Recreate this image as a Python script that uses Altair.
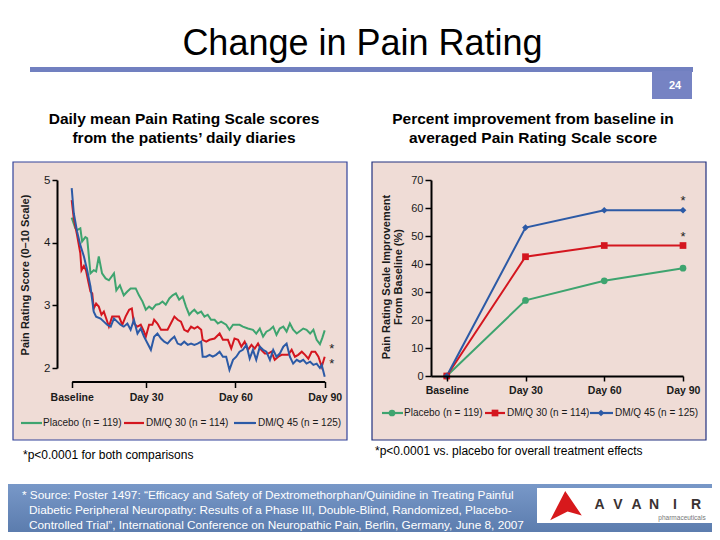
import json
import altair as alt
import pandas as pd

# ------------------------------------------------------------------ data
series = ["Placebo (n = 119)", "DM/Q 30 (n = 114)", "DM/Q 45 (n = 125)"]
series_colors = ["#3ea46f", "#d4161f", "#2c5aa6"]
series_shapes = ["circle", "square", "diamond"]

# Left panel: daily mean Pain Rating Scale score (0-10) by study day
placebo_days = [5, 6.2, 6.8, 7.9, 8.5, 9.6, 10.2, 11.3, 12.4, 13.2,
                14.1, 15.2, 16.4, 17.5, 19.2, 20.0, 21.2, 22.5, 23.7, 24.8,
                26.5, 27.6, 28.8, 29.9, 31.0, 32.1, 33.3, 34.4, 35.5, 36.6,
                37.8, 38.9, 40.0, 41.1, 42.3, 43.4, 44.5, 45.4, 46.2, 47.3,
                48.5, 49.6, 50.7, 51.8, 53.0, 54.1, 55.2, 56.9, 58.0, 59.2,
                60.3, 61.4, 62.5, 64.2, 65.9, 67.0, 68.2, 69.3, 70.4, 71.6,
                72.7, 73.8, 74.9, 76.1, 77.2, 78.3, 79.4, 80.6, 81.7, 82.8,
                83.9, 85.1, 86.2, 87.3, 88.4, 89.2, 90.0]
placebo_scores = [4.40, 4.23, 4.20, 4.23, 4.02, 4.09, 4.07, 3.51, 3.56, 3.54,
                  3.78, 3.51, 3.43, 3.40, 3.51, 3.24, 3.32, 3.16, 3.22, 3.27,
                  3.27, 3.16, 3.06, 2.93, 2.98, 2.94, 3.01, 3.02, 3.06, 3.01,
                  3.11, 3.16, 3.19, 3.09, 3.14, 2.98, 2.85, 2.90, 2.93, 2.87,
                  2.90, 2.82, 2.85, 2.77, 2.77, 2.71, 2.74, 2.69, 2.61, 2.69,
                  2.69, 2.69, 2.66, 2.63, 2.61, 2.55, 2.63, 2.50, 2.58, 2.61,
                  2.66, 2.53, 2.63, 2.66, 2.58, 2.71, 2.61, 2.55, 2.59, 2.63,
                  2.61, 2.55, 2.61, 2.45, 2.38, 2.48, 2.60]

dmq30_days = [5, 5.7, 6.8, 7.9, 8.3, 9.1, 9.8, 10.7, 11.3, 11.9,
              12.4, 13.2, 14.1, 15.0, 15.8, 16.6, 17.5, 18.6, 19.8, 20.9,
              22.0, 23.1, 24.3, 25.2, 25.9, 27.1, 28.2, 29.3, 29.9, 31.0,
              32.1, 32.7, 33.8, 35.0, 36.1, 37.2, 38.3, 39.5, 40.6, 41.7,
              42.8, 44.0, 45.1, 46.2, 47.3, 48.5, 49.0, 50.2, 51.3, 53.0,
              54.7, 55.8, 57.5, 58.6, 59.7, 60.9, 62.0, 63.1, 64.2, 65.4,
              66.5, 67.6, 68.7, 69.9, 71.0, 72.1, 73.2, 74.4, 75.5, 76.6,
              77.7, 78.9, 80.0, 81.1, 82.3, 83.4, 84.5, 85.6, 86.8, 87.9,
              89.0, 90.0]
dmq30_scores = [4.68, 4.39, 4.12, 3.83, 3.56, 3.63, 3.56, 3.35, 3.22, 3.19,
                2.95, 3.03, 2.98, 2.85, 2.90, 2.79, 2.66, 2.82, 2.82, 2.82,
                2.69, 2.82, 2.93, 2.95, 2.71, 2.66, 2.69, 2.58, 2.50, 2.69,
                2.69, 2.77, 2.71, 2.61, 2.61, 2.61, 2.71, 2.82, 2.77, 2.74,
                2.61, 2.58, 2.66, 2.63, 2.66, 2.61, 2.45, 2.42, 2.45, 2.47,
                2.55, 2.45, 2.45, 2.31, 2.47, 2.45, 2.34, 2.42, 2.29, 2.37,
                2.31, 2.39, 2.29, 2.23, 2.23, 2.26, 2.13, 2.18, 2.21, 2.21,
                2.21, 2.29, 2.18, 2.21, 2.26, 2.21, 2.15, 2.26, 2.26, 2.18,
                2.02, 2.18]

dmq45_days = [5, 5.7, 6.8, 7.9, 9.1, 10.2, 11.3, 12.4, 13.2, 14.7,
              15.8, 16.9, 18.1, 19.2, 20.3, 21.4, 22.5, 23.7, 24.8, 25.9,
              27.1, 28.2, 29.3, 30.5, 31.6, 32.7, 33.8, 35.0, 36.1, 37.2,
              38.3, 39.5, 40.6, 41.7, 42.8, 44.0, 45.1, 46.2, 47.3, 48.5,
              49.0, 50.2, 51.3, 52.4, 53.5, 54.7, 55.8, 56.9, 58.0, 59.2,
              60.3, 61.4, 62.5, 63.7, 64.8, 65.9, 67.0, 68.2, 69.3, 70.4,
              71.6, 72.7, 73.8, 74.9, 76.1, 77.2, 78.3, 79.4, 80.6, 81.7,
              82.8, 83.9, 85.1, 86.2, 87.3, 88.4, 89.0, 90.0]
dmq45_scores = [4.87, 4.47, 4.18, 3.96, 3.78, 3.56, 3.30, 2.90, 2.82, 2.79,
                2.74, 2.69, 2.66, 2.79, 2.74, 2.69, 2.66, 2.71, 2.61, 2.77,
                2.55, 2.63, 2.50, 2.39, 2.29, 2.50, 2.55, 2.47, 2.42, 2.39,
                2.45, 2.50, 2.39, 2.37, 2.42, 2.37, 2.39, 2.37, 2.39, 2.42,
                2.18, 2.18, 2.21, 2.18, 2.21, 2.26, 2.18, 2.18, 1.97, 2.13,
                2.18, 2.26, 2.29, 2.37, 2.15, 2.29, 2.13, 2.34, 2.29, 2.26,
                2.13, 2.29, 2.18, 2.23, 2.34, 2.39, 2.18, 2.07, 2.13, 2.10,
                2.13, 2.07, 2.10, 2.05, 2.07, 2.00, 2.05, 1.86]

visit_labels = ["Baseline", "Day 30", "Day 60", "Day 90"]
left_tick_days = [5, 30, 60, 90]
left_y_ticks = [2, 3, 4, 5]
left_star_scores = [2.30, 2.07]          # '*' beside the Day-90 ends

# Right panel: percent improvement from baseline
placebo_pct = [0, 27.0, 34.0, 38.5]
dmq30_pct = [0, 42.6, 46.6, 46.6]
dmq45_pct = [0, 53.0, 59.2, 59.2]
right_y_ticks = [0, 10, 20, 30, 40, 50, 60, 70]

title_text = "Change in Pain Rating"
page_no = "24"
left_subtitle = "Daily mean Pain Rating Scale scores\nfrom the patients\u2019 daily diaries"
right_subtitle = "Percent improvement from baseline in\naveraged Pain Rating Scale score"
left_ytitle = "Pain Rating Score (0\u201310 Scale)"
right_ytitle = "Pain Rating Scale Improvement\nFrom Baseline (%)"
left_note = "*p<0.0001 for both comparisons"
right_note = "*p<0.0001 vs. placebo for overall treatment effects"
source_1 = "* Source: Poster 1497: \u201cEfficacy and Safety of Dextromethorphan/Quinidine in Treating Painful"
source_23 = ("Diabetic Peripheral Neuropathy: Results of a Phase III, Double-Blind, Randomized, Placebo-\n"
             "Controlled Trial\u201d, International Conference on Neuropathic Pain, Berlin, Germany, June 8, 2007")
logo_letters = list("AVANIR")
logo_sub = "pharmaceuticals"

# ------------------------------------------------------------------ layout
OFF = 8
W, H = 704, 524
SANS = "Liberation Sans, Arial, Helvetica, sans-serif"


def P(v):
    return v - OFF


def one():
    return pd.DataFrame({"k": [0]})


def box(x1, y1, x2, y2, **kw):
    return alt.Chart(one()).mark_rect(**kw).encode(
        x=alt.value(P(x1)), x2=alt.value(P(x2)), y=alt.value(P(y1)), y2=alt.value(P(y2)))


def txt(s, x, y, **kw):
    return alt.Chart(pd.DataFrame({"t": [s]})).mark_text(**kw).encode(
        x=alt.value(P(x)), y=alt.value(P(y)), text="t:N")


def axis(orient, offset, values, label_expr=None, bold=False, tick=5, pad=3, size=11):
    kw = dict(orient=orient, offset=offset, values=values, title=None, grid=False,
              domainColor="#000", domainWidth=2, tickColor="#000", tickWidth=1.5,
              tickSize=tick, labelFont=SANS, labelFontSize=size,
              labelFontWeight="bold" if bold else "normal", labelColor="#1a1a1a",
              labelPadding=pad, labelFlush=False, labelOverlap=False, labelBound=False,
              zindex=1)
    if label_expr:
        kw["labelExpr"] = label_expr
    return alt.Axis(**kw)


col_scale = alt.Scale(domain=series, range=series_colors)
shape_scale = alt.Scale(domain=series, range=series_shapes)
size_scale = alt.Scale(domain=series, range=[45, 45, 75])

# ------------------------------------------------------------------ frames
left_df = pd.concat([
    pd.DataFrame({"series": series[0], "day": placebo_days, "score": placebo_scores}),
    pd.DataFrame({"series": series[1], "day": dmq30_days, "score": dmq30_scores}),
    pd.DataFrame({"series": series[2], "day": dmq45_days, "score": dmq45_scores}),
], ignore_index=True)

right_df = pd.concat([
    pd.DataFrame({"series": s, "visit": list(range(len(visit_labels))), "pct": p})
    for s, p in zip(series, [placebo_pct, dmq30_pct, dmq45_pct])
], ignore_index=True)
right_star_df = right_df[(right_df.visit == len(visit_labels) - 1) & (right_df.series != series[0])]
left_star_df = pd.DataFrame({"day": [left_tick_days[-1]] * 2, "score": left_star_scores})

# ------------------------------------------------------------------ scales
L_XS = alt.Scale(domain=[left_tick_days[0], left_tick_days[-1]], range=[P(71.7), P(324.7)], nice=False, zero=False)
L_YS = alt.Scale(domain=[2, 5], range=[P(368), P(180)], nice=False, zero=False)
R_XS = alt.Scale(domain=[-0.2, 3], range=[P(431), P(683)], nice=False, zero=False)
R_YS = alt.Scale(domain=[0, 70], range=[P(376), P(180)], nice=False, zero=False)

left_label_expr = f"{json.dumps(visit_labels)}[indexof({json.dumps(left_tick_days)}, datum.value)]"
right_label_expr = f"{json.dumps(visit_labels)}[datum.value]"

# ------------------------------------------------------------------ layers
layers = []

# background pieces
layers.append(box(30, 67, 693, 72, fill="#7180c0"))
layers.append(box(652, 71, 692, 99, fill="#7683c3"))
layers.append(box(13, 162, 347, 440, fill="#efdcd6", stroke="#33439a", strokeWidth=1.2))
layers.append(box(372, 162, 706, 440, fill="#efdcd6", stroke="#22307e", strokeWidth=1.2))
layers.append(box(0, 484, 728, 548, fill=alt.LinearGradient(
    gradient="linear",
    stops=[alt.GradientStop(color="#7898c8", offset=0), alt.GradientStop(color="#5273a5", offset=1)],
    x1=0, x2=0, y1=0, y2=1)))
layers.append(box(537, 488, 715, 523, fill="white"))

# texts
layers.append(txt(title_text, 362.5, 55, font=SANS, fontSize=36, align="center", baseline="alphabetic", color="black"))
layers.append(txt(page_no, 675, 86, font=SANS, fontSize=11, fontWeight="bold", align="center", baseline="middle", color="white"))
layers.append(txt(left_subtitle, 184, 124, font=SANS, fontSize=15.5, fontWeight="bold", align="center",
                  baseline="alphabetic", lineBreak="\n", lineHeight=19, color="black"))
layers.append(txt(right_subtitle, 533, 124, font=SANS, fontSize=15.5, fontWeight="bold", align="center",
                  baseline="alphabetic", lineBreak="\n", lineHeight=19, color="black"))
layers.append(txt(left_note, 23, 459, font=SANS, fontSize=12, align="left", baseline="alphabetic", color="black"))
layers.append(txt(right_note, 375, 455, font=SANS, fontSize=12, align="left", baseline="alphabetic", color="black"))
layers.append(txt(source_1, 22, 499, font=SANS, fontSize=11.8, align="left", baseline="alphabetic", color="white"))
layers.append(txt(source_23, 29, 514, font=SANS, fontSize=11.8, align="left", baseline="alphabetic",
                  lineBreak="\n", lineHeight=15, color="white"))
layers.append(txt(left_ytitle, 26, 275, font=SANS, fontSize=11, fontWeight="bold", angle=270,
                  align="center", baseline="middle", color="#1a1a1a"))
layers.append(txt(right_ytitle, 387, 277, font=SANS, fontSize=11, fontWeight="bold", angle=270,
                  align="center", baseline="middle", lineBreak="\n", lineHeight=12, color="#1a1a1a"))

# logo
layers.append(alt.Chart(one()).mark_point(
    shape="M-1,0.9L-0.05,-0.95L1,0.6L0.1,0.35Z", filled=True, fill="#d7191c", opacity=1, size=1000
).encode(x=alt.value(P(566)), y=alt.value(P(506))))
logo_df = pd.DataFrame({"ch": logo_letters, "lx": [P(v) for v in [599.5, 618, 636.5, 654, 675, 696]]})
layers.append(alt.Chart(logo_df).mark_text(font=SANS, fontSize=14, fontWeight="bold", color="#3a3232",
                                           align="center", baseline="middle").encode(
    x=alt.X("lx:Q", scale=None), y=alt.value(P(505)), text="ch:N"))
layers.append(txt(logo_sub, 682, 518, font=SANS, fontSize=6.5, align="center", baseline="middle", color="#777777"))

# left chart
layers.append(alt.Chart(left_df).mark_line(strokeWidth=2).encode(
    x=alt.X("day:Q", scale=L_XS, axis=axis("bottom", P(381.5) - H, left_tick_days, left_label_expr,
                                            bold=True, tick=6, pad=5, size=10.5)),
    y=alt.Y("score:Q", scale=L_YS, axis=axis("left", -P(57), left_y_ticks, tick=5, pad=2, size=11.5)),
    color=alt.Color("series:N", scale=col_scale, legend=None),
    detail="series:N",
))
layers.append(alt.Chart(left_star_df).mark_text(text="*", font=SANS, fontSize=13, dx=7, color="#222",
                                                 align="center", baseline="middle").encode(
    x=alt.X("day:Q", scale=L_XS, axis=None), y=alt.Y("score:Q", scale=L_YS, axis=None)))

# right chart
layers.append(alt.Chart(right_df).mark_line(strokeWidth=2).encode(
    x=alt.X("visit:Q", scale=R_XS, axis=axis("bottom", P(376) - H, list(range(len(visit_labels))),
                                              right_label_expr, bold=True, tick=5, pad=4, size=10.5)),
    y=alt.Y("pct:Q", scale=R_YS, axis=axis("left", -P(431), right_y_ticks, tick=6, pad=2, size=11)),
    color=alt.Color("series:N", scale=col_scale, legend=None),
    detail="series:N",
))
layers.append(alt.Chart(right_df).mark_point(filled=True, opacity=1).encode(
    x=alt.X("visit:Q", scale=R_XS, axis=None),
    y=alt.Y("pct:Q", scale=R_YS, axis=None),
    color=alt.Color("series:N", scale=col_scale, legend=None),
    shape=alt.Shape("series:N", scale=shape_scale, legend=None),
    size=alt.Size("series:N", scale=size_scale, legend=None),
))
layers.append(alt.Chart(right_star_df).mark_text(text="*", font=SANS, fontSize=13, dy=-9, color="#222",
                                                  align="center", baseline="middle").encode(
    x=alt.X("visit:Q", scale=R_XS, axis=None), y=alt.Y("pct:Q", scale=R_YS, axis=None)))

# legends
left_leg = pd.DataFrame({"series": series,
                         "x1": [P(v) for v in [21, 124, 234]],
                         "x2": [P(v) for v in [42, 144, 256]],
                         "xt": [P(v) for v in [43, 146, 258]]})
layers.append(alt.Chart(left_leg).mark_rule(strokeWidth=2.2).encode(
    x=alt.X("x1:Q", scale=None), x2="x2:Q", y=alt.value(P(423)),
    color=alt.Color("series:N", scale=col_scale, legend=None)))
layers.append(alt.Chart(left_leg).mark_text(font=SANS, fontSize=10, align="left", baseline="middle",
                                            color="#1a1a1a").encode(
    x=alt.X("xt:Q", scale=None), y=alt.value(P(423)), text="series:N"))

right_leg = pd.DataFrame({"series": series,
                          "x1": [P(v) for v in [382, 485, 590]],
                          "x2": [P(v) for v in [403, 505, 613]],
                          "xm": [P(v) for v in [392, 495, 601]],
                          "xt": [P(v) for v in [404, 507, 615]]})
layers.append(alt.Chart(right_leg).mark_rule(strokeWidth=2.2).encode(
    x=alt.X("x1:Q", scale=None), x2="x2:Q", y=alt.value(P(413)),
    color=alt.Color("series:N", scale=col_scale, legend=None)))
layers.append(alt.Chart(right_leg).mark_point(filled=True, opacity=1).encode(
    x=alt.X("xm:Q", scale=None), y=alt.value(P(413)),
    color=alt.Color("series:N", scale=col_scale, legend=None),
    shape=alt.Shape("series:N", scale=shape_scale, legend=None),
    size=alt.Size("series:N", scale=size_scale, legend=None)))
layers.append(alt.Chart(right_leg).mark_text(font=SANS, fontSize=10, align="left", baseline="middle",
                                             color="#1a1a1a").encode(
    x=alt.X("xt:Q", scale=None), y=alt.value(P(413)), text="series:N"))

chart = alt.layer(*layers).properties(
    width=W, height=H, padding=0,
    autosize=alt.AutoSizeParams(type="none"),
    background="white",
).resolve_scale(
    x="independent", y="independent", color="independent", shape="independent", size="independent"
).configure_view(stroke=None)

chart.save("out.html", embed_options={"renderer": "svg", "actions": False})
